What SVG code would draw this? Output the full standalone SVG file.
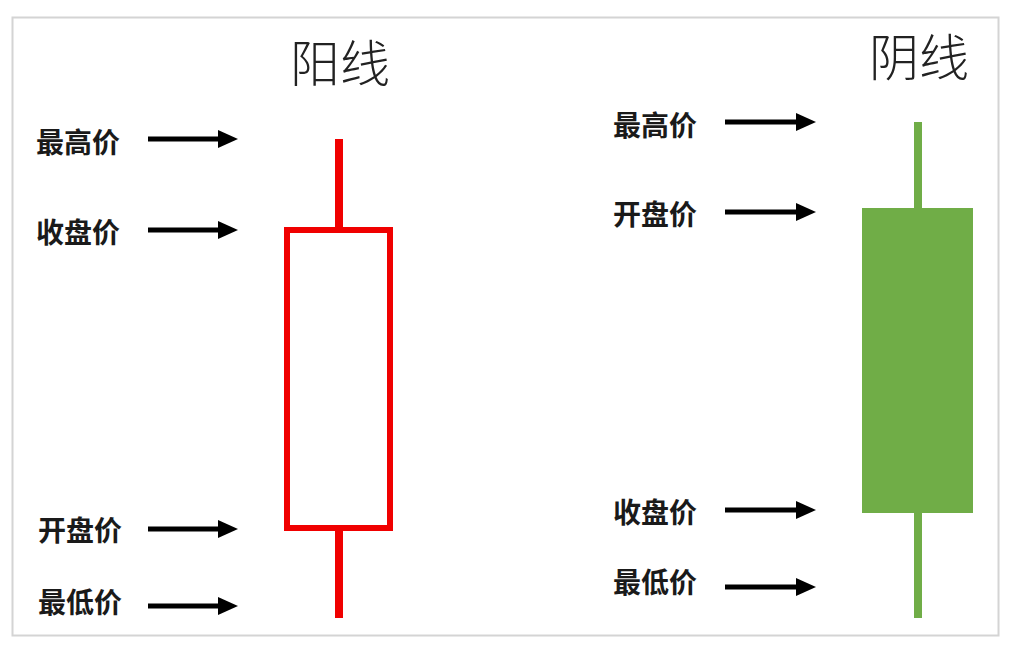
<svg xmlns="http://www.w3.org/2000/svg" width="1011" height="652" viewBox="0 0 1011 652">
<defs>
<style>
.lbl{font-family:"Noto Sans CJK SC","Noto Sans",sans-serif;font-weight:700;font-size:28px;fill:#1a1a1a;dominant-baseline:central}
.ttl{font-family:"Noto Sans CJK SC","Noto Sans",sans-serif;font-weight:300;font-size:50px;fill:#222}
.arr{stroke:#000;stroke-width:5;fill:none}
.head{fill:#000}
</style>
</defs>
<rect x="0" y="0" width="1011" height="652" fill="#fff"/>
<rect x="12.5" y="17.5" width="986" height="618" fill="#fff" stroke="#d4d4d4" stroke-width="2"/>
<g id="yang-candle">
<text class="ttl" x="340" y="82" text-anchor="middle">阳线</text>
<line x1="339" y1="139" x2="339" y2="230" stroke="#f00000" stroke-width="8"/>
<line x1="339" y1="528" x2="339" y2="618" stroke="#f00000" stroke-width="8"/>
<rect x="287" y="230" width="103" height="298" fill="#fff" stroke="#f00000" stroke-width="6"/>
</g>
<g id="yin-candle">
<text class="ttl" x="919" y="76" text-anchor="middle">阴线</text>
<rect x="914" y="122" width="8" height="496" fill="#70ad47"/>
<rect x="862" y="208" width="111" height="305" fill="#70ad47"/>
</g>
<g id="labels-left">
<text class="lbl" x="36" y="141">最高价</text>
<text class="lbl" x="36" y="231">收盘价</text>
<text class="lbl" x="38" y="529">开盘价</text>
<text class="lbl" x="38" y="601">最低价</text>
</g>
<g id="labels-right">
<text class="lbl" x="613" y="124">最高价</text>
<text class="lbl" x="613" y="213">开盘价</text>
<text class="lbl" x="613" y="511">收盘价</text>
<text class="lbl" x="613" y="581">最低价</text>
</g>
<g id="connectors">
<line class="arr" x1="148" y1="139" x2="222" y2="139"/><polygon class="head" points="218,130 238,139 218,148"/>
<line class="arr" x1="148" y1="230" x2="222" y2="230"/><polygon class="head" points="218,221 238,230 218,239"/>
<line class="arr" x1="148" y1="529" x2="222" y2="529"/><polygon class="head" points="218,520 238,529 218,538"/>
<line class="arr" x1="148" y1="606" x2="222" y2="606"/><polygon class="head" points="218,597 238,606 218,615"/>
<line class="arr" x1="725" y1="122" x2="800" y2="122"/><polygon class="head" points="796,113 816,122 796,131"/>
<line class="arr" x1="725" y1="212" x2="800" y2="212"/><polygon class="head" points="796,203 816,212 796,221"/>
<line class="arr" x1="725" y1="510" x2="800" y2="510"/><polygon class="head" points="796,501 816,510 796,519"/>
<line class="arr" x1="725" y1="587" x2="800" y2="587"/><polygon class="head" points="796,578 816,587 796,596"/>
</g>
</svg>
